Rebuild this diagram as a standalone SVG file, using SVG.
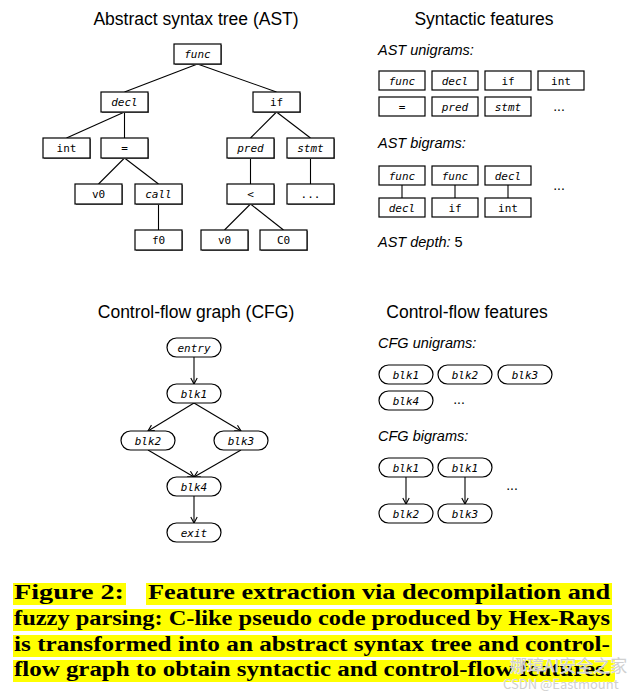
<svg xmlns="http://www.w3.org/2000/svg" width="642" height="695" viewBox="0 0 642 695">
<style>
.title{font-family:"Liberation Sans",Arial,sans-serif;font-size:17.5px;fill:#000;text-anchor:middle}
.lab{font-family:"Liberation Sans",Arial,sans-serif;font-size:14.5px;font-style:italic;fill:#000}
.box{fill:#fff;stroke:#000;stroke-width:1.2}
.sh{fill:#777}
.t{font-family:"DejaVu Sans Mono",monospace;font-size:11px;fill:#000;text-anchor:middle}
.i{font-style:italic}
.e{stroke:#000;stroke-width:1.1;fill:none}
.a{stroke:#000;stroke-width:1.1;fill:none;marker-end:url(#arr)}
.dots{font-family:"Liberation Sans",Arial,sans-serif;font-size:14px;fill:#000;text-anchor:middle}
.cap{font-family:"Liberation Serif","Times New Roman",serif;font-size:20px;font-weight:bold;fill:#000}
.hl{fill:#ffff00}
.wm{font-family:"Noto Sans CJK SC","Liberation Sans",sans-serif;fill:#d0d0d0;stroke:#fff;stroke-width:0.6;paint-order:stroke}
</style>
<defs>
<marker id="arr" markerWidth="10" markerHeight="10" refX="0" refY="0" viewBox="-8 -5 10 10" orient="auto" markerUnits="userSpaceOnUse">
<path d="M-6,-3.2 L0,0 L-6,3.2" fill="none" stroke="#000" stroke-width="1.1"/>
</marker>
</defs>
<rect width="642" height="695" fill="#fff"/>

<text class="title" x="196" y="25">Abstract syntax tree (AST)</text>
<text class="title" x="484" y="25">Syntactic features</text>
<text class="title" x="196" y="318">Control-flow graph (CFG)</text>
<text class="title" x="467" y="318">Control-flow features</text>

<g id="connectors">
<line class="e" x1="197.5" y1="64" x2="124.5" y2="92"/>
<line class="e" x1="197.5" y1="64" x2="276.5" y2="92"/>
<line class="e" x1="124.5" y1="112" x2="66.5" y2="138"/>
<line class="e" x1="124.5" y1="112" x2="124.5" y2="138"/>
<line class="e" x1="276.5" y1="112" x2="250.5" y2="138"/>
<line class="e" x1="276.5" y1="112" x2="310.5" y2="138"/>
<line class="e" x1="124.5" y1="158" x2="98.5" y2="184"/>
<line class="e" x1="124.5" y1="158" x2="158.5" y2="184"/>
<line class="e" x1="250.5" y1="158" x2="250.5" y2="184"/>
<line class="e" x1="310.5" y1="158" x2="310.5" y2="184"/>
<line class="e" x1="158.5" y1="204" x2="158.5" y2="230"/>
<line class="e" x1="250.5" y1="204" x2="224.5" y2="230"/>
<line class="e" x1="250.5" y1="204" x2="283.5" y2="230"/>
<line class="e" x1="402" y1="185" x2="402" y2="198"/>
<line class="e" x1="455" y1="185" x2="455" y2="198"/>
<line class="e" x1="508" y1="185" x2="508" y2="198"/>
<line class="a" x1="194" y1="357" x2="194" y2="384"/>
<line class="a" x1="194" y1="403" x2="148" y2="431"/>
<line class="a" x1="194" y1="403" x2="241" y2="431"/>
<line class="a" x1="148" y1="450" x2="194" y2="477"/>
<line class="a" x1="241" y1="450" x2="194" y2="477"/>
<line class="a" x1="194" y1="496" x2="194" y2="523"/>
<line class="a" x1="406" y1="477" x2="406" y2="504"/>
<line class="a" x1="465" y1="477" x2="465" y2="504"/>
</g>

<g id="ast-func"><rect class="sh" x="175" y="45" width="47" height="20"/><rect class="box" x="174" y="44" width="47" height="20"/><text class="t i" x="197.5" y="58">func</text></g>
<g id="ast-decl"><rect class="sh" x="102" y="93" width="47" height="20"/><rect class="box" x="101" y="92" width="47" height="20"/><text class="t i" x="124.5" y="106">decl</text></g>
<g id="ast-if"><rect class="sh" x="254" y="93" width="47" height="20"/><rect class="box" x="253" y="92" width="47" height="20"/><text class="t" x="276.5" y="106">if</text></g>
<g id="ast-int"><rect class="sh" x="44" y="139" width="47" height="20"/><rect class="box" x="43" y="138" width="47" height="20"/><text class="t" x="66.5" y="152">int</text></g>
<g id="ast-assign"><rect class="sh" x="102" y="139" width="47" height="20"/><rect class="box" x="101" y="138" width="47" height="20"/><text class="t" x="124.5" y="152">=</text></g>
<g id="ast-pred"><rect class="sh" x="228" y="139" width="47" height="20"/><rect class="box" x="227" y="138" width="47" height="20"/><text class="t i" x="250.5" y="152">pred</text></g>
<g id="ast-stmt"><rect class="sh" x="288" y="139" width="47" height="20"/><rect class="box" x="287" y="138" width="47" height="20"/><text class="t i" x="310.5" y="152">stmt</text></g>
<g id="ast-v0a"><rect class="sh" x="76" y="185" width="47" height="20"/><rect class="box" x="75" y="184" width="47" height="20"/><text class="t" x="98.5" y="198">v0</text></g>
<g id="ast-call"><rect class="sh" x="136" y="185" width="47" height="20"/><rect class="box" x="135" y="184" width="47" height="20"/><text class="t i" x="158.5" y="198">call</text></g>
<g id="ast-lt"><rect class="sh" x="228" y="185" width="47" height="20"/><rect class="box" x="227" y="184" width="47" height="20"/><text class="t" x="250.5" y="198">&lt;</text></g>
<g id="ast-more"><rect class="sh" x="288" y="185" width="47" height="20"/><rect class="box" x="287" y="184" width="47" height="20"/><text class="t" x="310.5" y="198">...</text></g>
<g id="ast-f0"><rect class="sh" x="136" y="231" width="47" height="20"/><rect class="box" x="135" y="230" width="47" height="20"/><text class="t" x="158.5" y="244">f0</text></g>
<g id="ast-v0b"><rect class="sh" x="202" y="231" width="47" height="20"/><rect class="box" x="201" y="230" width="47" height="20"/><text class="t" x="224.5" y="244">v0</text></g>
<g id="ast-c0"><rect class="sh" x="261" y="231" width="47" height="20"/><rect class="box" x="260" y="230" width="47" height="20"/><text class="t" x="283.5" y="244">C0</text></g>

<g id="ast-unigrams">
<text class="lab" x="378" y="55">AST unigrams:</text>
<rect class="box" x="379" y="71" width="46" height="19"/><text class="t i" x="402" y="84.5">func</text>
<rect class="box" x="432" y="71" width="46" height="19"/><text class="t i" x="455" y="84.5">decl</text>
<rect class="box" x="485" y="71" width="46" height="19"/><text class="t" x="508" y="84.5">if</text>
<rect class="box" x="538" y="71" width="46" height="19"/><text class="t" x="561" y="84.5">int</text>
<rect class="box" x="379" y="97" width="46" height="19"/><text class="t" x="402" y="110.5">=</text>
<rect class="box" x="432" y="97" width="46" height="19"/><text class="t i" x="455" y="110.5">pred</text>
<rect class="box" x="485" y="97" width="46" height="19"/><text class="t i" x="508" y="110.5">stmt</text>
<text class="dots" x="559" y="111">...</text>
</g>

<g id="ast-bigrams">
<text class="lab" x="378" y="148">AST bigrams:</text>
<rect class="box" x="379" y="166" width="46" height="19"/><text class="t i" x="402" y="179.5">func</text>
<rect class="box" x="432" y="166" width="46" height="19"/><text class="t i" x="455" y="179.5">func</text>
<rect class="box" x="485" y="166" width="46" height="19"/><text class="t i" x="508" y="179.5">decl</text>
<rect class="box" x="379" y="198" width="46" height="19"/><text class="t i" x="402" y="211.5">decl</text>
<rect class="box" x="432" y="198" width="46" height="19"/><text class="t" x="455" y="211.5">if</text>
<rect class="box" x="485" y="198" width="46" height="19"/><text class="t" x="508" y="211.5">int</text>
<text class="dots" x="559" y="190">...</text>
</g>

<text class="lab" x="378" y="247" id="ast-depth">AST depth: <tspan font-style="normal">5</tspan></text>

<g id="cfg-entry"><rect class="box" x="167" y="338" width="54" height="19" rx="9.5"/><text class="t i" x="194" y="351.5">entry</text></g>
<g id="cfg-blk1"><rect class="box" x="167" y="384" width="54" height="19" rx="9.5"/><text class="t i" x="194" y="397.5">blk1</text></g>
<g id="cfg-blk2"><rect class="box" x="121" y="431" width="54" height="19" rx="9.5"/><text class="t i" x="148" y="444.5">blk2</text></g>
<g id="cfg-blk3"><rect class="box" x="214" y="431" width="54" height="19" rx="9.5"/><text class="t i" x="241" y="444.5">blk3</text></g>
<g id="cfg-blk4"><rect class="box" x="167" y="477" width="54" height="19" rx="9.5"/><text class="t i" x="194" y="490.5">blk4</text></g>
<g id="cfg-exit"><rect class="box" x="167" y="523" width="54" height="19" rx="9.5"/><text class="t i" x="194" y="536.5">exit</text></g>

<g id="cfg-unigrams">
<text class="lab" x="378" y="348">CFG unigrams:</text>
<rect class="box" x="379" y="365" width="54" height="19" rx="9.5"/><text class="t i" x="406" y="378.5">blk1</text>
<rect class="box" x="438" y="365" width="54" height="19" rx="9.5"/><text class="t i" x="465" y="378.5">blk2</text>
<rect class="box" x="498" y="365" width="54" height="19" rx="9.5"/><text class="t i" x="525" y="378.5">blk3</text>
<rect class="box" x="379" y="391" width="54" height="19" rx="9.5"/><text class="t i" x="406" y="404.5">blk4</text>
<text class="dots" x="459" y="404">...</text>
</g>

<g id="cfg-bigrams">
<text class="lab" x="378" y="441">CFG bigrams:</text>
<rect class="box" x="379" y="458" width="54" height="19" rx="9.5"/><text class="t i" x="406" y="471.5">blk1</text>
<rect class="box" x="438" y="458" width="54" height="19" rx="9.5"/><text class="t i" x="465" y="471.5">blk1</text>
<rect class="box" x="379" y="504" width="54" height="19" rx="9.5"/><text class="t i" x="406" y="517.5">blk2</text>
<rect class="box" x="438" y="504" width="54" height="19" rx="9.5"/><text class="t i" x="465" y="517.5">blk3</text>
<text class="dots" x="512" y="490">...</text>
</g>

<g id="caption">
<rect class="hl" x="13" y="583" width="113" height="22"/>
<rect class="hl" x="146" y="583" width="466" height="22"/>
<rect class="hl" x="13" y="609" width="599" height="22"/>
<rect class="hl" x="13" y="635" width="599" height="22"/>
<rect class="hl" x="13" y="660" width="602" height="22"/>
<text class="cap" x="14" y="599" textLength="110" lengthAdjust="spacingAndGlyphs">Figure 2:</text>
<text class="cap" x="148" y="599" textLength="462" lengthAdjust="spacingAndGlyphs">Feature extraction via decompilation and</text>
<text class="cap" x="14" y="625" textLength="596" lengthAdjust="spacingAndGlyphs">fuzzy parsing: C-like pseudo code produced by Hex-Rays</text>
<text class="cap" x="14" y="651" textLength="596" lengthAdjust="spacingAndGlyphs">is transformed into an abstract syntax tree and control-</text>
<text class="cap" x="14" y="676" textLength="597" lengthAdjust="spacingAndGlyphs">flow graph to obtain syntactic and control-flow features.</text>
</g>

<g id="watermark">
<text class="wm" x="510" y="672" font-size="17">娜璋AI安全之家</text>
<text class="wm" x="503" y="689" font-size="13">CSDN @Eastmount</text>
</g>
</svg>
